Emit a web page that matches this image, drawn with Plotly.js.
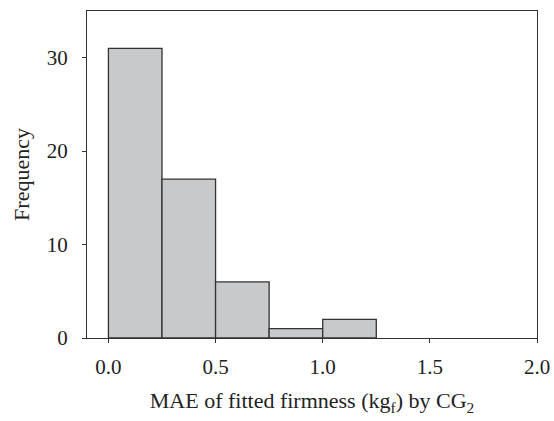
<!DOCTYPE html>
<html>
<head>
<meta charset="utf-8">
<script src="https://cdn.plot.ly/plotly-3.0.1.min.js"></script>
<style>html,body{margin:0;padding:0;background:#fff;}#chart{width:554px;height:421px;}</style>
</head>
<body>
<div id="chart"></div>
<script>
const binStarts = [0.0, 0.25, 0.5, 0.75, 1.0];
const binWidth = 0.25;
const frequencies = [31, 17, 6, 1, 2];
const xTickVals = [0.0, 0.5, 1.0, 1.5, 2.0];
const xTickText = ["0.0", "0.5", "1.0", "1.5", "2.0"];
const yTickVals = [0, 10, 20, 30];

const centers = binStarts.map(s => s + binWidth / 2);
const fontFam = "Liberation Serif, Times New Roman, serif";

const trace = {
  type: "bar",
  x: centers,
  y: frequencies,
  width: binStarts.map(() => binWidth),
  marker: {color: "#c8c9cb", line: {color: "#333333", width: 1.3}},
  hoverinfo: "x+y"
};

const layout = {
  width: 554, height: 421,
  margin: {l: 87, r: 17, t: 11, b: 83},
  paper_bgcolor: "#fff", plot_bgcolor: "#fff",
  showlegend: false,
  font: {family: fontFam, size: 21, color: "#222"},
  xaxis: {
    range: [-0.1, 2.0],
    tickvals: xTickVals, ticktext: xTickText,
    ticks: "outside", ticklen: 4, tickcolor: "#333", tickwidth: 1,
    showline: true, linecolor: "#333", linewidth: 1, mirror: true,
    showgrid: false, zeroline: false,
    ticklabelstandoff: 6,
    title: {text: "MAE of fitted firmness (kg<sub>f</sub>) by CG<sub>2</sub>", font: {family: fontFam, size: 22, color: "#222"}, standoff: 14}
  },
  yaxis: {
    range: [0, 35],
    tickvals: yTickVals,
    ticks: "outside", ticklen: 4, tickcolor: "#333", tickwidth: 1,
    showline: true, linecolor: "#333", linewidth: 1, mirror: true,
    showgrid: false, zeroline: false,
    ticklabelstandoff: 10,
    title: {text: "Frequency", font: {family: fontFam, size: 22, color: "#222"}, standoff: 11}
  }
};

Plotly.newPlot("chart", [trace], layout, {displayModeBar: false, staticPlot: true});
</script>
</body>
</html>
